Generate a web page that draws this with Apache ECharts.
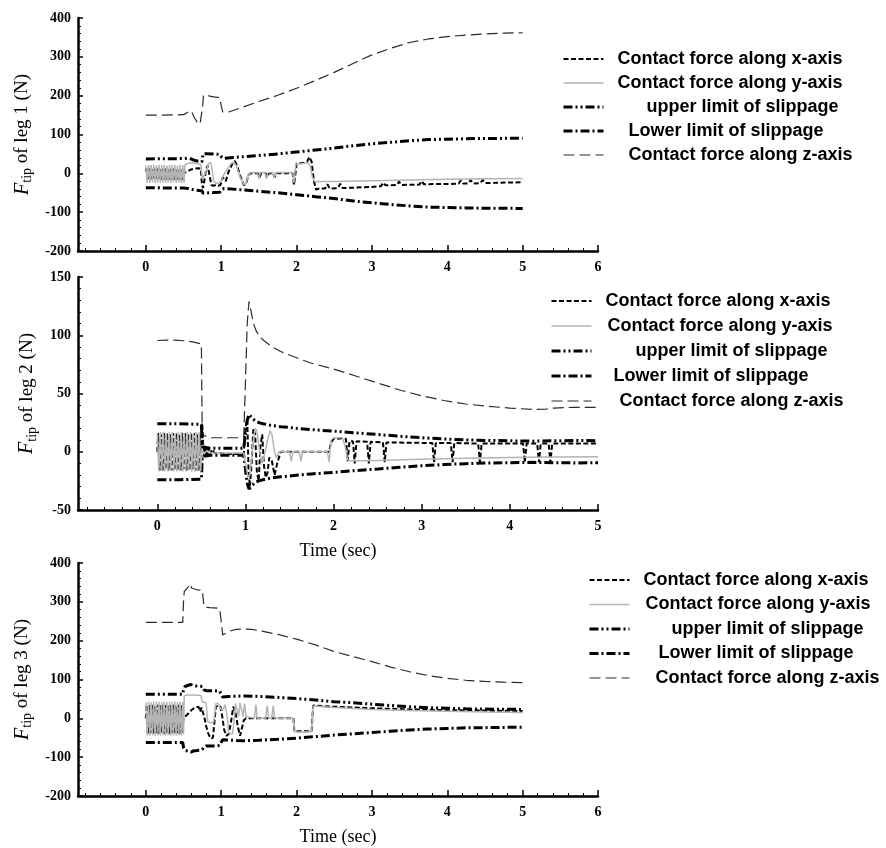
<!DOCTYPE html>
<html><head><meta charset="utf-8">
<script src="https://cdn.jsdelivr.net/npm/echarts@6/dist/echarts.min.js"></script>
<style>html,body{margin:0;padding:0;background:#fff}#c{width:886px;height:848px}</style>
</head><body><div id="c"></div><script>
// ---------- DATA (time in sec, force in N) ----------
const seriesNames = ['Contact force along x-axis','Contact force along y-axis','upper limit of slippage','Lower limit of slippage','Contact force along z-axis'];
const xTickLabels1 = [0,1,2,3,4,5,6];
const xTickLabels2 = [0,1,2,3,4,5];
const xTickLabels3 = [0,1,2,3,4,5,6];
const xMinorTicks6 = [-0.8,-0.6,-0.4,-0.2,0.2,0.4,0.6,0.8,1.2,1.4,1.6,1.8,2.2,2.4,2.6,2.8,3.2,3.4,3.6,3.8,4.2,4.4,4.6,4.8,5.2,5.4,5.6,5.8];
const xMinorTicks5 = [-0.8,-0.6,-0.4,-0.2,0.2,0.4,0.6,0.8,1.2,1.4,1.6,1.8,2.2,2.4,2.6,2.8,3.2,3.4,3.6,3.8,4.2,4.4,4.6,4.8];

// Leg 1
const leg1_fx = [[0,5],[0.009,12],[0.027,-17],[0.044,12],[0.062,-17],[0.079,11],[0.097,-16],[0.114,12],[0.132,-17],[0.149,12],[0.167,-17],[0.184,11],[0.202,-16],[0.219,12],[0.237,-17],[0.254,12],[0.272,-17],[0.289,11],[0.307,-16],[0.324,12],[0.342,-17],[0.359,12],[0.377,-17],[0.394,11],[0.412,-16],[0.429,12],[0.447,-17],[0.464,12],[0.482,-17],[0.5,0],[0.52,2],[0.56,6],[0.6,10],[0.65,12],[0.7,13],[0.73,12],[0.745,-30],[0.76,-38],[0.78,-35],[0.8,10],[0.82,20],[0.84,15],[0.87,-30],[0.9,-32],[0.93,-30],[0.96,-32],[0.99,-30],[1.02,-10],[1.06,-20],[1.1,5],[1.15,25],[1.18,32],[1.21,20],[1.25,-5],[1.3,-30],[1.33,-28],[1.36,-5],[1.39,0],[1.49,0],[1.51,-10],[1.53,0],[1.59,0],[1.61,-10],[1.63,0],[1.69,0],[1.71,-10],[1.73,0],[1.95,0],[1.965,-30],[1.98,-10],[2.0,25],[2.05,26],[2.1,27],[2.14,30],[2.17,42],[2.2,30],[2.23,-20],[2.26,-42],[2.3,-39],[2.38,-39],[2.41,-28],[2.44,-39],[2.55,-38],[2.58,-27],[2.61,-38],[3.0,-35],[3.12,-33],[3.15,-24],[3.18,-31],[3.33,-30],[3.36,-21],[3.39,-30],[3.63,-29],[3.66,-20],[3.69,-28],[4.15,-27],[4.18,-18],[4.21,-26],[4.28,-26],[4.31,-17],[4.34,-26],[4.44,-25],[4.47,-17],[4.5,-25],[5,-23]];
const leg1_fy = [[0,20],[0.018,-24],[0.035,22],[0.053,-25],[0.07,21],[0.088,-23],[0.105,22],[0.123,-25],[0.14,20],[0.158,-24],[0.175,22],[0.193,-25],[0.21,21],[0.228,-24],[0.245,22],[0.263,-25],[0.28,20],[0.298,-24],[0.315,22],[0.333,-25],[0.35,21],[0.368,-23],[0.385,22],[0.403,-25],[0.42,20],[0.438,-24],[0.455,22],[0.473,-25],[0.49,21],[0.508,-24],[0.52,22],[0.55,25],[0.6,27],[0.65,26],[0.7,24],[0.73,23],[0.75,-15],[0.77,-20],[0.8,5],[0.83,25],[0.86,28],[0.88,10],[0.9,-20],[0.93,-26],[0.97,-25],[1.0,-20],[1.03,-5],[1.08,10],[1.13,25],[1.17,28],[1.2,20],[1.25,-10],[1.3,-28],[1.33,-27],[1.36,-5],[1.39,2],[1.48,2],[1.5,-14],[1.52,2],[1.58,2],[1.6,-14],[1.62,2],[1.68,2],[1.7,-13],[1.72,2],[1.95,2],[1.965,-24],[1.975,-5],[1.99,24],[2.05,25],[2.1,26],[2.15,27],[2.18,20],[2.21,-10],[2.24,-21],[2.5,-21],[3,-19],[3.5,-17],[4,-15],[4.5,-14],[5,-13]];
const leg1_upper = [[0,37],[0.25,37.5],[0.5,38],[0.56,39],[0.6,37],[0.65,33],[0.7,31],[0.745,30],[0.76,50],[0.8,50.5],[0.9,49.5],[0.98,49],[1.01,41],[1.04,39],[1.25,42],[1.5,46],[1.75,50],[2,55],[2.25,60],[2.5,65],[2.75,71],[3,76],[3.25,80],[3.5,84],[3.75,87],[4,88],[4.25,89],[4.5,90],[4.75,90],[5,90.5]];
const leg1_lower = [[0,-37],[0.25,-37.5],[0.5,-38],[0.56,-39],[0.6,-41],[0.65,-43],[0.7,-44],[0.745,-45],[0.76,-51],[0.8,-50.5],[0.9,-49.5],[0.98,-49],[1.01,-41],[1.04,-39],[1.25,-42],[1.5,-46],[1.75,-50],[2,-55],[2.25,-60],[2.5,-65],[2.75,-71],[3,-76],[3.25,-80],[3.5,-84],[3.75,-87],[4,-88],[4.25,-89],[4.5,-90],[4.75,-90],[5,-90.5]];
const leg1_fz = [[0,150],[0.25,150],[0.5,151],[0.54,155],[0.58,161],[0.61,158],[0.64,145],[0.68,132],[0.72,127],[0.745,125],[0.755,175],[0.765,200],[0.8,202],[0.85,199],[0.9,197],[0.98,195],[1.0,175],[1.02,158],[1.04,155],[1.1,158],[1.25,168],[1.5,185],[1.75,201],[2,219],[2.25,239],[2.5,260],[2.75,283],[3,305],[3.25,322],[3.5,337],[3.75,346],[4,352],[4.25,356],[4.5,359],[4.75,361],[5,362]];

// Leg 2
const leg2_fx = [[0,0],[0.008,16],[0.025,-16],[0.042,15],[0.059,-16],[0.076,16],[0.093,-15],[0.11,16],[0.127,-16],[0.144,15],[0.161,-16],[0.178,16],[0.195,-15],[0.212,16],[0.229,-16],[0.246,15],[0.263,-16],[0.28,16],[0.297,-15],[0.314,16],[0.331,-16],[0.348,15],[0.365,-16],[0.382,16],[0.399,-15],[0.416,16],[0.433,-16],[0.45,15],[0.467,-16],[0.484,16],[0.5,-15],[0.505,17],[0.51,24],[0.52,5],[0.53,-4],[0.54,6],[0.55,-3],[0.56,4],[0.57,-3],[0.58,3],[0.6,-2],[0.62,2],[0.65,-1],[0.7,-1],[0.8,-2],[0.9,-2],[0.98,-2],[1.0,20],[1.02,28],[1.035,-15],[1.05,-30],[1.07,-10],[1.09,20],[1.11,15],[1.13,-18],[1.15,-25],[1.17,5],[1.19,15],[1.21,-12],[1.23,-22],[1.25,-18],[1.27,-5],[1.3,-8],[1.33,-20],[1.36,-10],[1.4,0],[1.95,0],[1.97,8],[2.0,11],[2.1,11.5],[2.14,11],[2.16,-8],[2.18,9],[2.22,9],[2.24,-10],[2.26,9],[2.38,8.5],[2.4,-10],[2.42,8.5],[2.56,8],[2.58,-9],[2.6,8],[3.12,7.5],[3.14,-9],[3.16,7.5],[3.33,7.5],[3.35,-9],[3.37,7.5],[3.64,7],[3.66,-9],[3.68,7],[4.15,7],[4.17,-9],[4.19,7],[4.31,7],[4.33,-9],[4.35,7],[4.44,7],[4.46,-9],[4.48,7],[5,7]];
const leg2_fy = [[0,16],[0.017,-17],[0.034,17],[0.051,-16],[0.068,17],[0.085,-17],[0.102,16],[0.119,-17],[0.136,17],[0.153,-16],[0.17,17],[0.187,-17],[0.204,16],[0.221,-17],[0.238,17],[0.255,-16],[0.272,17],[0.289,-17],[0.306,16],[0.323,-17],[0.34,17],[0.357,-16],[0.374,17],[0.391,-17],[0.408,16],[0.425,-17],[0.442,17],[0.459,-16],[0.476,17],[0.493,-17],[0.505,3],[0.53,-2],[0.56,1],[0.6,-1],[0.98,-1],[1.0,-10],[1.03,-22],[1.05,-20],[1.07,-5],[1.09,10],[1.11,20],[1.13,18],[1.16,0],[1.19,-10],[1.21,-5],[1.25,10],[1.28,18],[1.3,15],[1.33,0],[1.35,-5],[1.38,0],[1.5,0],[1.52,-8],[1.54,0],[1.61,0],[1.63,-8],[1.65,0],[1.93,0],[1.95,-9],[1.97,10],[2.0,12],[2.1,12],[2.13,5],[2.16,-7],[2.2,-8],[2.5,-7.5],[3,-6.5],[3.5,-5.5],[4,-5],[4.5,-4.5],[5,-4.3]];
const leg2_upper = [[0,24],[0.25,24],[0.5,23.5],[0.51,4],[0.6,3],[0.98,3],[1.0,15],[1.02,27],[1.04,32],[1.06,30.5],[1.08,28.5],[1.1,27],[1.12,26],[1.16,24.8],[1.2,24],[1.3,22.5],[1.4,21.5],[1.5,20.8],[1.6,20],[1.75,19],[2,17.7],[2.25,16.2],[2.5,14.8],[2.75,13.3],[3,12],[3.25,11],[3.5,10.2],[3.75,9.7],[4,9.4],[4.25,9.1],[4.5,9.4],[4.75,9.6],[5,9.5]];
const leg2_lower = [[0,-24],[0.25,-24],[0.5,-23.5],[0.51,-4],[0.6,-3],[0.98,-3],[1.0,-15],[1.02,-27],[1.04,-32],[1.06,-30.5],[1.08,-28.5],[1.1,-27],[1.12,-26],[1.16,-24.8],[1.2,-24],[1.3,-22.5],[1.4,-21.5],[1.5,-20.8],[1.6,-20],[1.75,-19],[2,-17.7],[2.25,-16.2],[2.5,-14.8],[2.75,-13.3],[3,-12],[3.25,-11],[3.5,-10.2],[3.75,-9.7],[4,-9.4],[4.25,-9.1],[4.5,-9.4],[4.75,-9.6],[5,-9.5]];
const leg2_fz = [[0,95.5],[0.1,95.8],[0.2,95.8],[0.3,95.3],[0.4,94.3],[0.5,92.5],[0.505,50],[0.51,16],[0.53,14],[0.56,13],[0.6,12],[0.8,12],[0.98,12],[1.0,60],[1.02,110],[1.04,129],[1.06,122],[1.08,114],[1.1,108],[1.12,104],[1.16,99],[1.2,96],[1.3,90],[1.4,86],[1.5,83],[1.6,80],[1.75,76],[2,71],[2.25,65],[2.5,59],[2.75,53],[3,48],[3.25,44],[3.5,41],[3.75,39],[4,37.5],[4.25,36.3],[4.4,36.5],[4.5,37.5],[4.75,38.2],[5,38]];

// Leg 3
const leg3_fx = [[0,0],[0.009,35],[0.027,-40],[0.044,34],[0.062,-38],[0.079,35],[0.097,-40],[0.114,34],[0.132,-38],[0.149,35],[0.167,-40],[0.184,34],[0.202,-38],[0.219,35],[0.237,-40],[0.254,34],[0.272,-38],[0.289,35],[0.307,-40],[0.324,34],[0.342,-38],[0.359,35],[0.377,-40],[0.394,34],[0.412,-38],[0.429,35],[0.447,-40],[0.464,34],[0.482,-38],[0.5,0],[0.55,10],[0.6,20],[0.65,28],[0.7,30],[0.72,17],[0.74,28],[0.76,30],[0.78,0],[0.8,-20],[0.83,-40],[0.86,-52],[0.89,-50],[0.91,-10],[0.93,30],[0.96,33],[0.99,30],[1.01,10],[1.04,-30],[1.07,-45],[1.1,-40],[1.13,-10],[1.16,30],[1.19,15],[1.22,-20],[1.25,-45],[1.27,-40],[1.3,-5],[1.33,0],[1.96,0],[1.97,-33],[2.1,-33],[2.2,-33],[2.22,33],[2.5,30],[3,26],[3.5,23],[4,21],[4.5,20],[5,19]];
const leg3_fy = [[0,40],[0.018,-44],[0.035,43],[0.053,-45],[0.07,42],[0.088,-44],[0.105,43],[0.123,-45],[0.14,42],[0.158,-44],[0.175,43],[0.193,-45],[0.21,42],[0.228,-44],[0.245,43],[0.263,-45],[0.28,42],[0.298,-44],[0.315,43],[0.333,-45],[0.35,42],[0.368,-44],[0.385,43],[0.403,-45],[0.42,42],[0.438,-44],[0.455,43],[0.473,-45],[0.49,42],[0.5,-40],[0.51,58],[0.55,60],[0.65,60],[0.73,59],[0.75,42],[0.8,40],[0.82,-8],[0.86,-12],[0.9,-10],[0.93,38],[0.96,38],[0.99,25],[1.02,20],[1.05,35],[1.08,5],[1.1,-38],[1.15,-40],[1.17,-10],[1.19,38],[1.21,38],[1.23,5],[1.25,40],[1.27,38],[1.29,5],[1.31,38],[1.33,5],[1.35,0],[1.44,0],[1.46,35],[1.48,0],[1.59,0],[1.61,33],[1.63,0],[1.67,0],[1.69,32],[1.71,0],[1.96,0],[1.97,-34],[2.0,-35],[2.1,-35],[2.2,-34],[2.22,32],[2.5,28],[3,23],[3.5,20],[4,18],[4.5,16],[5,15]];
const leg3_upper = [[0,62],[0.25,62],[0.49,62],[0.5,75],[0.52,82],[0.56,85],[0.6,87],[0.63,84],[0.68,83],[0.75,82],[0.77,74],[0.8,71],[0.9,71],[0.98,70],[1.0,62],[1.02,55],[1.1,56],[1.2,57],[1.3,57.5],[1.5,56.5],[1.75,54],[2,51],[2.25,47],[2.5,43],[2.75,40],[3,36.5],[3.25,33],[3.5,30],[3.75,27.5],[4,26],[4.25,24.5],[4.5,24],[4.75,23.3],[5,23]];
const leg3_lower = [[0,-62],[0.25,-62],[0.49,-62],[0.5,-75],[0.52,-82],[0.56,-85],[0.6,-87],[0.63,-84],[0.68,-83],[0.75,-80],[0.77,-74],[0.8,-71],[0.9,-71],[0.98,-70],[1.0,-62],[1.02,-55],[1.1,-56],[1.2,-57],[1.3,-57.5],[1.5,-56.5],[1.75,-54],[2,-51],[2.25,-47],[2.5,-43],[2.75,-40],[3,-36.5],[3.25,-33],[3.5,-30],[3.75,-27.5],[4,-26],[4.25,-24.5],[4.5,-24],[4.75,-23.3],[5,-23]];
const leg3_fz = [[0,247],[0.25,247],[0.49,247],[0.5,300],[0.51,327],[0.55,335],[0.59,346],[0.61,335],[0.63,330],[0.68,331],[0.75,330],[0.765,300],[0.78,286],[0.85,285],[0.95,284],[0.98,282],[1.0,250],[1.02,215],[1.05,218],[1.1,224],[1.2,229],[1.3,230],[1.4,229],[1.5,226],[1.75,216],[2,204],[2.25,189],[2.5,172],[2.75,159],[3,146],[3.25,132],[3.5,120],[3.75,110],[4,103],[4.25,98],[4.5,95],[4.75,93],[5,92]];

// ---------- CHART ----------
const panels = [
  {fx:leg1_fx, fy:leg1_fy, up:leg1_upper, lo:leg1_lower, fz:leg1_fz, xMax:6, xLabels:xTickLabels1, xMinor:xMinorTicks6, yMin:-200, yMax:400, yInt:100, leg:'1', xName:''},
  {fx:leg2_fx, fy:leg2_fy, up:leg2_upper, lo:leg2_lower, fz:leg2_fz, xMax:5, xLabels:xTickLabels2, xMinor:xMinorTicks5, yMin:-50, yMax:150, yInt:50, leg:'2', xName:'Time (sec)'},
  {fx:leg3_fx, fy:leg3_fy, up:leg3_upper, lo:leg3_lower, fz:leg3_fz, xMax:6, xLabels:xTickLabels3, xMinor:xMinorTicks6, yMin:-200, yMax:400, yInt:100, leg:'3', xName:'Time (sec)'}
];
const gridPos = [{left:78, top:18, width:520, height:233},{left:78, top:277, width:520, height:233},{left:78, top:563, width:520, height:233}];
const legendPos = [
  {left:562, top:50, gap:6, pads:[9,9,38,20,20]},
  {left:550, top:292, gap:7, pads:[9,11,39,17,23]},
  {left:588, top:571, gap:6.5, pads:[9,11,37,24,21]}
];
const lineStyles = [
  {color:'#000', width:2, type:[5,2.5]},
  {color:'#b4b4b4', width:1.5, type:'solid'},
  {color:'#000', width:3, type:[9,3,2,3,2,3]},
  {color:'#000', width:3, type:[9,3,2,3]},
  {color:'#2a2a38', width:1.2, type:[11,5]}
];
const serif = '"Liberation Serif","Times New Roman",serif';
const sans = '"Liberation Sans",Arial,sans-serif';

const grid = [], xAxis = [], yAxis = [], series = [], legend = [];
panels.forEach((p, i) => {
  grid.push(Object.assign({containLabel:false}, gridPos[i]));
  xAxis.push({
    type:'value', gridIndex:i, min:-0.9, max:p.xMax, position:'bottom',
    name:p.xName, nameLocation:'middle', nameGap:32,
    nameTextStyle:{fontFamily:serif, fontSize:18, color:'#000'},
    axisLine:{show:true, onZero:false, lineStyle:{color:'#000', width:2.5}},
    axisTick:{show:true, inside:true, length:6, customValues:p.xLabels, lineStyle:{color:'#000', width:1.5}},
    axisLabel:{show:true, customValues:p.xLabels, margin:9, fontFamily:serif, fontWeight:'bold', fontSize:14, color:'#000'},
    splitLine:{show:false}
  });
  xAxis.push({
    type:'value', gridIndex:i, min:-0.9, max:p.xMax, position:'bottom',
    axisLine:{show:false, onZero:false}, axisLabel:{show:false}, splitLine:{show:false},
    axisTick:{show:true, inside:true, length:3, customValues:p.xMinor, lineStyle:{color:'#000', width:1}}
  });
  yAxis.push({
    type:'value', gridIndex:i, min:p.yMin, max:p.yMax, interval:p.yInt, position:'left',
    name:'{f|F}{s|tip}{n| of leg ' + p.leg + ' (N)}', nameLocation:'middle', nameGap:35, nameRotate:90,
    nameTextStyle:{fontFamily:serif, color:'#000', rich:{
      f:{fontFamily:serif, fontSize:20, fontStyle:'italic', color:'#000'},
      s:{fontFamily:serif, fontSize:14, color:'#000', padding:[10,0,0,0]},
      n:{fontFamily:serif, fontSize:19, color:'#000'}
    }},
    axisLine:{show:true, onZero:false, lineStyle:{color:'#000', width:2.5}},
    axisTick:{show:true, inside:true, length:5, lineStyle:{color:'#000', width:1.5}},
    minorTick:{show:true, splitNumber:5, length:3, lineStyle:{color:'#000', width:1}},
    axisLabel:{margin:7, fontFamily:serif, fontWeight:'bold', fontSize:14, color:'#000'},
    splitLine:{show:false}
  });
  const datas = [p.fx, p.fy, p.up, p.lo, p.fz];
  const order = [4, 2, 3, 0, 1];
  order.forEach(k => {
    series.push({
      type:'line', name:seriesNames[k], xAxisIndex:2*i, yAxisIndex:i,
      data:datas[k], symbol:'none', showSymbol:false, smooth:false,
      lineStyle:Object.assign({}, lineStyles[k]), itemStyle:{color:lineStyles[k].color},
      emphasis:{disabled:true}, animation:false, z:2+order.indexOf(k)
    });
  });
  const lp = legendPos[i];
  const rich = {};
  lp.pads.forEach((pd, k) => {
    rich['r'+k] = {fontFamily:sans, fontWeight:'bold', fontSize:18, color:'#000', lineHeight:14, padding:[0,0,0,pd]};
  });
  legend.push({
    orient:'vertical', left:lp.left, top:lp.top, padding:0, itemGap:lp.gap,
    itemWidth:40, itemHeight:14, selectedMode:false,
    data:seriesNames.slice(),
    itemStyle:{opacity:0},
    lineStyle:{width:'inherit'},
    formatter:(name) => '{r' + seriesNames.indexOf(name) + '|' + name + '}',
    textStyle:{fontFamily:sans, fontWeight:'bold', fontSize:18, color:'#000', lineHeight:14, rich:rich}
  });
});

const chart = echarts.init(document.getElementById('c'), null, {renderer:'canvas'});
chart.setOption({backgroundColor:'#fff', animation:false, grid, xAxis, yAxis, series, legend});
</script></body></html>
